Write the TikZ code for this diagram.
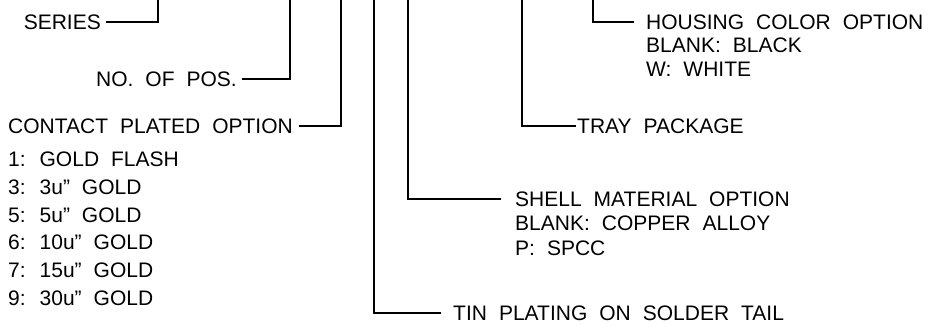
\documentclass[tikz,border=0pt]{standalone}
\usepackage{fontspec}
\setmainfont{Liberation Sans}
\newcommand\lblfont{\fontsize{21}{25}\selectfont\spaceskip=12pt plus 0pt minus 0pt\relax}
\tikzset{
  lbl/.style={inner sep=0pt, font=\lblfont},
  lblw/.style={lbl, anchor=west},
  lble/.style={lbl, anchor=east},
  lead/.style={line width=1.8pt, line cap=rect},
}
\begin{document}
\begin{tikzpicture}[x=1pt,y=-1pt]
\useasboundingbox (0,0) rectangle (944,326);
% top ends of leaders
\coordinate (t1) at (158,0);
\coordinate (t2) at (290,0);
\coordinate (t3) at (341,0);
\coordinate (t4) at (374,0);
\coordinate (t5) at (408,0);
\coordinate (t6) at (522,0);
\coordinate (t7) at (593,0);
% left labels
\node[lble] (series) at (101,22) {SERIES};
\node[lble] (pos) at (237,79) {NO. OF POS.};
\node[lble] (contact) at (293,126) {CONTACT PLATED OPTION};
\node[lblw] (c1) at (8,159.5) {1: GOLD FLASH};
\node[lblw] (c3) at (8,187.25) {3: 3u” GOLD};
\node[lblw] (c5) at (8,215) {5: 5u” GOLD};
\node[lblw] (c6) at (8,242.75) {6: 10u” GOLD};
\node[lblw] (c7) at (8,270.5) {7: 15u” GOLD};
\node[lblw] (c9) at (8,298.25) {9: 30u” GOLD};
% right labels
\node[lblw] (housing) at (646,22) {HOUSING COLOR OPTION};
\node[lblw] (h1) at (646,45.5) {BLANK: BLACK};
\node[lblw] (h2) at (646,69) {W: WHITE};
\node[lblw] (tray) at (577,126) {TRAY PACKAGE};
\node[lblw] (shell) at (515,199) {SHELL MATERIAL OPTION};
\node[lblw] (s1) at (515,223.5) {BLANK: COPPER ALLOY};
\node[lblw] (s2) at (515,248) {P: SPCC};
\node[lblw] (tin) at (453,313) {TIN PLATING ON SOLDER TAIL};
% leaders
\draw[lead] ([xshift=6pt]series.east) -| (t1);
\draw[lead] ([xshift=6pt]pos.east) -| (t2);
\draw[lead] ([xshift=7pt]contact.east) -| (t3);
\draw[lead] (t4) |- ([xshift=-13pt]tin.west);
\draw[lead] (t5) |- ([xshift=-15pt]shell.west);
\draw[lead] (t6) |- ([xshift=-2pt]tray.west);
\draw[lead] (t7) |- ([xshift=-13pt]housing.west);
\end{tikzpicture}
\end{document}
